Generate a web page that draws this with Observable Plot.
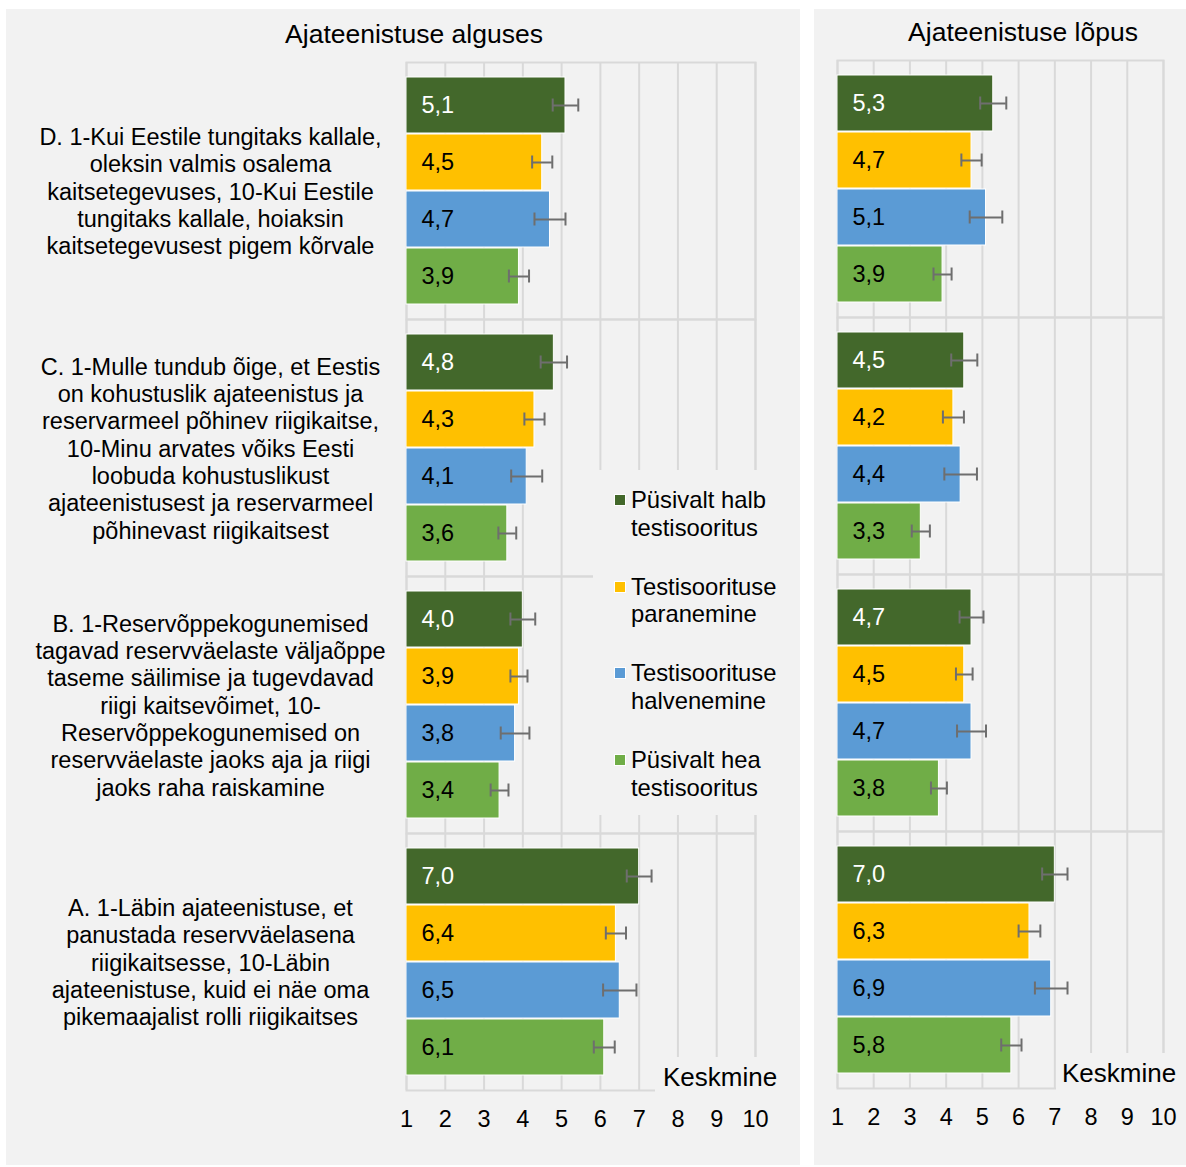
<!DOCTYPE html>
<html>
<head>
<meta charset="utf-8">
<script src="https://cdn.jsdelivr.net/npm/d3@7"></script>
<script src="https://cdn.jsdelivr.net/npm/@observablehq/plot@0.6"></script>
<style>
  html, body { margin: 0; padding: 0; background: #ffffff; }
  body { width: 1186px; height: 1167px; position: relative; overflow: hidden;
         font-family: "Liberation Sans", Arial, sans-serif; color: #000; }
  .panel { position: absolute; background: #f2f2f2; }
  .panel svg { position: absolute; left: 0; top: 0; background: transparent; }
  .title { position: absolute; font-size: 26.5px; white-space: nowrap; transform: translate(-50%, -50%); }
  .cover { position: absolute; background: #f2f2f2; }
  .keskmine { position: absolute; font-size: 26px; line-height: 28px; white-space: nowrap; }
  .legend-item { position: absolute; left: 38px; font-size: 23.8px; line-height: 27.5px; white-space: nowrap; }
  .legend-item .sw { position: absolute; left: -17px; top: 8px; width: 10px; height: 10px; border: 1px solid #fff; }
</style>
</head>
<body>
<div id="left" class="panel" style="left:6px; top:9px; width:794px; height:1156px;"></div>
<div id="right" class="panel" style="left:814px; top:9px; width:372px; height:1156px;"></div>
<div class="title" style="left:414px; top:34px;">Ajateenistuse alguses</div>
<div class="title" style="left:1023px; top:32px;">Ajateenistuse lõpus</div>
<div id="legend" class="cover" style="left:593px; top:470px; width:207px; height:345px;"></div>
<div class="cover" style="left:655px; top:1057px; width:145px; height:38px;"><div class="keskmine" style="left:8px; top:6px;">Keskmine</div></div>
<div class="cover" style="left:1056px; top:1053px; width:130px; height:38px;"><div class="keskmine" style="left:6px; top:6px;">Keskmine</div></div>
<script>
// ---- data ----
const groups = ["D", "C", "B", "A"];
const groupLabels = [
  "D. 1-Kui Eestile tungitaks kallale,\noleksin valmis osalema\nkaitsetegevuses, 10-Kui Eestile\ntungitaks kallale, hoiaksin\nkaitsetegevusest pigem kõrvale",
  "C. 1-Mulle tundub õige, et Eestis\non kohustuslik ajateenistus ja\nreservarmeel põhinev riigikaitse,\n10-Minu arvates võiks Eesti\nloobuda kohustuslikust\najateenistusest ja reservarmeel\npõhinevast riigikaitsest",
  "B. 1-Reservõppekogunemised\ntagavad reservväelaste väljaõppe\ntaseme säilimise ja tugevdavad\nriigi kaitsevõimet, 10-\nReservõppekogunemised on\nreservväelaste jaoks aja ja riigi\njaoks raha raiskamine",
  "A. 1-Läbin ajateenistuse, et\npanustada reservväelasena\nriigikaitsesse, 10-Läbin\najateenistuse, kuid ei näe oma\npikemaajalist rolli riigikaitses"
];
const series = ["Püsivalt halb testisooritus", "Testisoorituse paranemine", "Testisoorituse halvenemine", "Püsivalt hea testisooritus"];
const legendLines = [["Püsivalt halb", "testisooritus"], ["Testisoorituse", "paranemine"], ["Testisoorituse", "halvenemine"], ["Püsivalt hea", "testisooritus"]];
const colors = ["#43682b", "#ffc000", "#5b9bd5", "#70ad47"];
const xTicks = [1, 2, 3, 4, 5, 6, 7, 8, 9, 10];

// means per group (D, C, B, A) x series
const startMeans = [[5.1, 4.5, 4.7, 3.9], [4.8, 4.3, 4.1, 3.6], [4.0, 3.9, 3.8, 3.4], [7.0, 6.4, 6.5, 6.1]];
const startErr   = [[0.33, 0.26, 0.40, 0.26], [0.34, 0.26, 0.40, 0.23], [0.32, 0.22, 0.37, 0.23], [0.32, 0.26, 0.43, 0.27]];
const endMeans   = [[5.3, 4.7, 5.1, 3.9], [4.5, 4.2, 4.4, 3.3], [4.7, 4.5, 4.7, 3.8], [7.0, 6.3, 6.9, 5.8]];
const endErr     = [[0.36, 0.28, 0.45, 0.25], [0.36, 0.29, 0.45, 0.25], [0.33, 0.23, 0.40, 0.22], [0.35, 0.30, 0.45, 0.28]];

function rows(means, errs) {
  const out = [];
  groups.forEach((g, gi) => series.forEach((s, si) => {
    out.push({group: g, series: s, value: means[gi][si], lo: means[gi][si] - errs[gi][si], hi: means[gi][si] + errs[gi][si]});
  }));
  return out;
}
const fmt = v => v.toFixed(1).replace(".", ",");
const FONT = '"Liberation Sans", Arial, sans-serif';

function makePanel(data, opts) {
  const marks = [
    Plot.ruleX(xTicks, {x: d => d, stroke: "#d9d9d9", strokeWidth: 2}),
    Plot.frame({stroke: "#d9d9d9", strokeWidth: 2}),
    Plot.barX(data, {fy: "group", y: "series", x1: 1, x2: "value", fill: "series", stroke: "#ffffff", strokeWidth: 1}),
    Plot.ruleY(data, {fy: "group", y: "series", x1: "lo", x2: "hi", stroke: "#6e6e6e", strokeWidth: 2}),
    Plot.tickX(data, {fy: "group", y: "series", x: "lo", stroke: "#6e6e6e", strokeWidth: 2, insetTop: 21.5, insetBottom: 21.5}),
    Plot.tickX(data, {fy: "group", y: "series", x: "hi", stroke: "#6e6e6e", strokeWidth: 2, insetTop: 21.5, insetBottom: 21.5}),
    Plot.text(data.filter(d => d.series === series[0]), {fy: "group", y: "series", x: 1, text: d => fmt(d.value), dx: 15, textAnchor: "start", fill: "#ffffff", fontSize: 23.5}),
    Plot.text(data.filter(d => d.series !== series[0]), {fy: "group", y: "series", x: 1, text: d => fmt(d.value), dx: 15, textAnchor: "start", fill: "#000000", fontSize: 23.5})
  ];
  if (opts.labels) {
    marks.push(Plot.text(groups.map((g, i) => ({group: g, label: groupLabels[i]})), {
      fy: "group", text: "label", frameAnchor: "left", dx: -196, textAnchor: "middle",
      fill: "#000000", fontSize: 23.5, lineHeight: 1.16
    }));
  }
  return Plot.plot({
    width: opts.width, height: 1156,
    marginLeft: opts.ml, marginRight: opts.mr, marginTop: opts.mt, marginBottom: opts.mb,
    style: {background: "transparent", fontFamily: FONT, fontSize: "23.5px", color: "#000"},
    x: {domain: [1, 10], ticks: xTicks, tickSize: 0, tickPadding: 20, label: null, tickFormat: d => String(d)},
    y: {domain: series, axis: null, paddingInner: 0.02, paddingOuter: 0.25},
    fy: {domain: groups, axis: null, padding: 0},
    color: {domain: series, range: colors},
    marks
  });
}

document.getElementById("left").appendChild(makePanel(rows(startMeans, startErr), {width: 794, ml: 400, mr: 45, mt: 52, mb: 75, labels: true}));
document.getElementById("right").appendChild(makePanel(rows(endMeans, endErr), {width: 372, ml: 23, mr: 23, mt: 50, mb: 77, labels: false}));

// legend
const leg = document.getElementById("legend");
series.forEach((s, i) => {
  const item = document.createElement("div");
  item.className = "legend-item";
  item.style.top = (16 + i * 86.7) + "px";
  const sw = document.createElement("div");
  sw.className = "sw";
  sw.style.background = colors[i];
  item.appendChild(sw);
  legendLines[i].forEach(line => {
    const l = document.createElement("div");
    l.textContent = line;
    item.appendChild(l);
  });
  leg.appendChild(item);
});
</script>
</body>
</html>
